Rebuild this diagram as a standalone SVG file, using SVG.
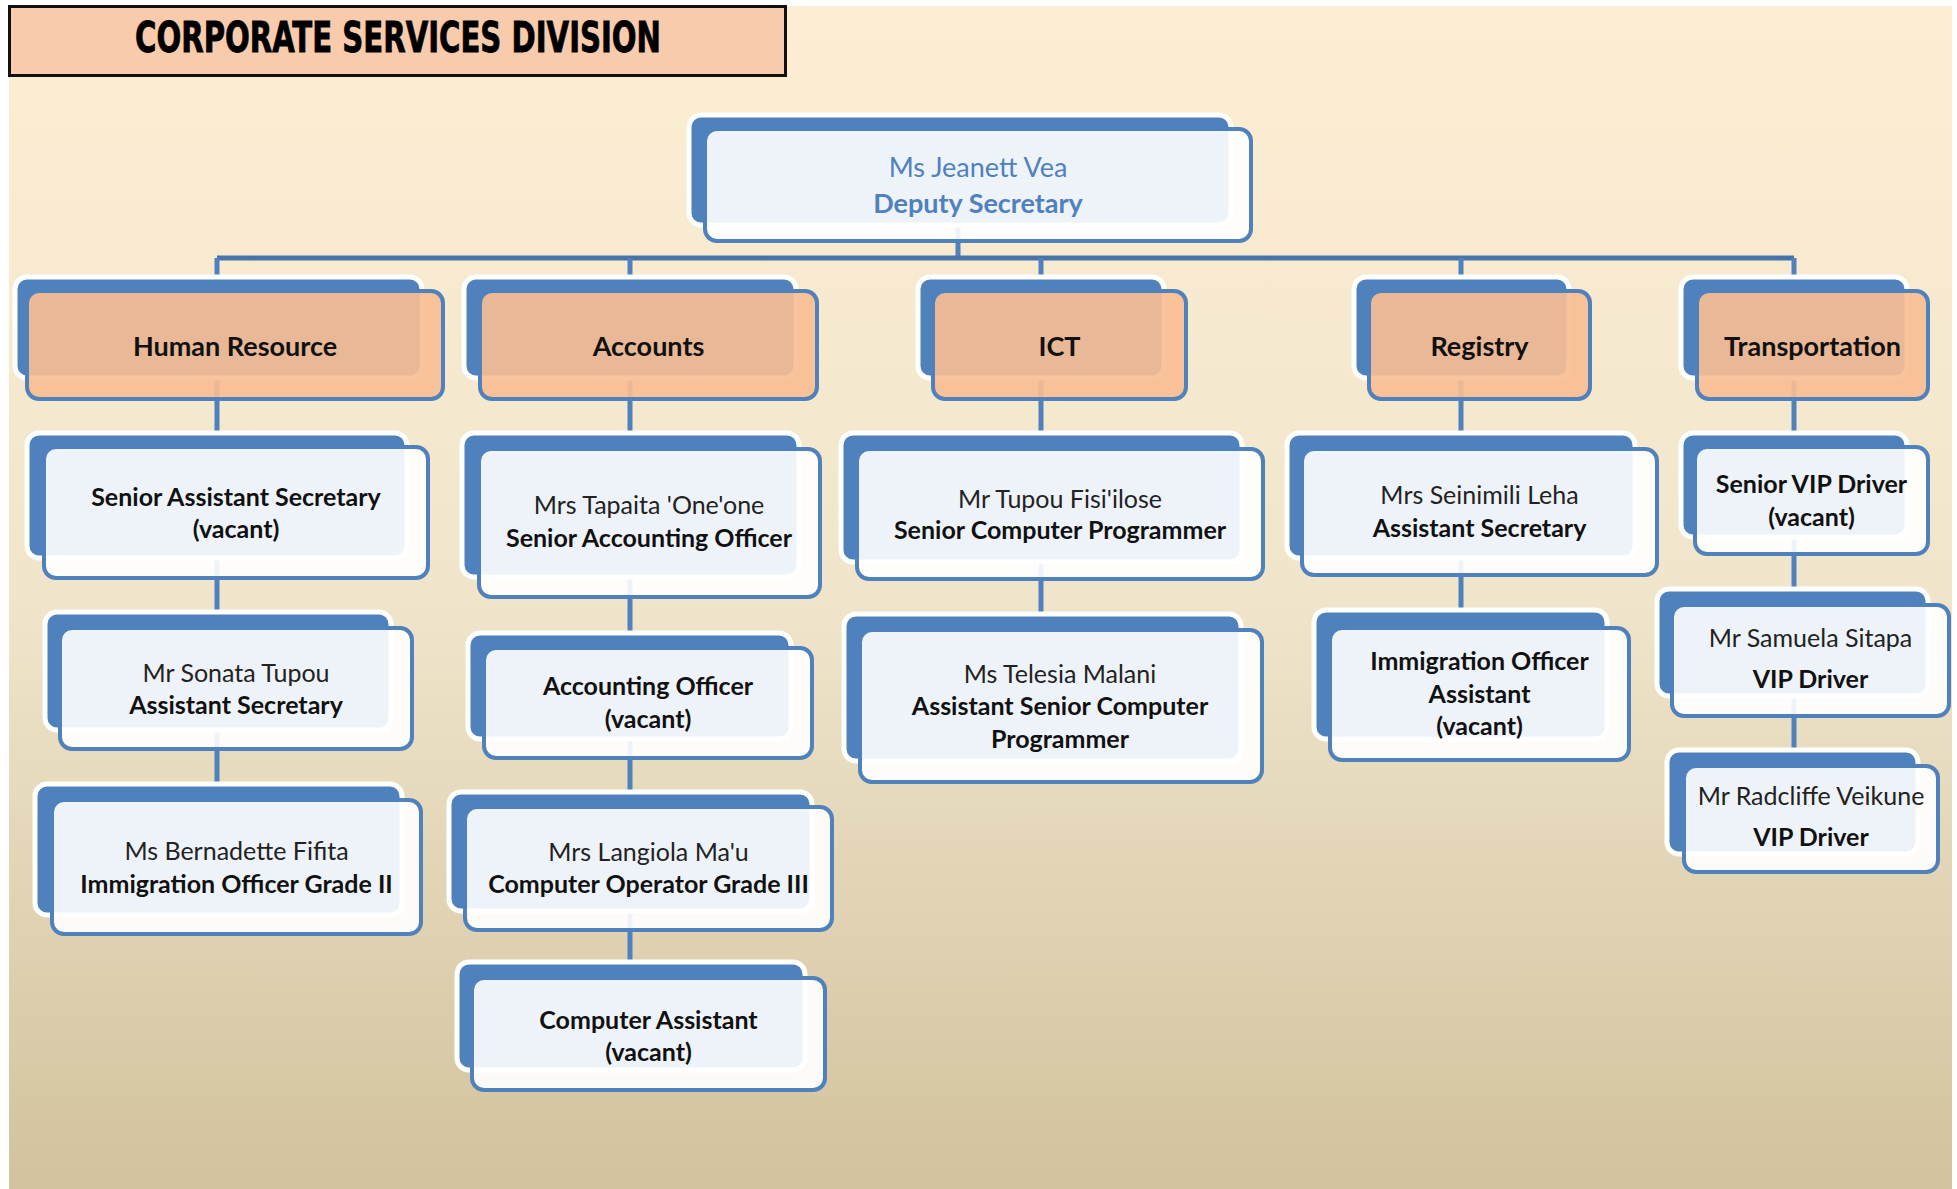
<svg xmlns="http://www.w3.org/2000/svg" width="1957" height="1189" viewBox="0 0 1957 1189">
  <defs>
    <linearGradient id="bg" x1="0" y1="0" x2="0" y2="1">
      <stop offset="0" stop-color="#fdeed3"/>
      <stop offset="0.5" stop-color="#f0e5cb"/>
      <stop offset="1" stop-color="#d2c29e"/>
    </linearGradient>
    <style>
      .back{fill:#4f81bd;stroke:#fff;stroke-width:5}
      .front{fill:#fff;fill-opacity:.9;stroke:#4f81bd;stroke-width:4}
      .dept .front{fill:#f8bd92;fill-opacity:.91}
      .link{stroke:#4f81bd;stroke-width:5;fill:none}
      .bus{stroke:#4674aa;stroke-width:5;fill:none}
      text{font-family:Lato,"Open Sans",sans-serif;text-anchor:middle}
      .n{font-size:25px;fill:#222}
      .b{font-size:25px;font-weight:bold;fill:#111}
      .d{font-size:27px;font-weight:bold;fill:#111}
      .top .n,.top .b{fill:#4f81bd;font-size:27px}
      .title{font-family:"Liberation Sans Narrow","DejaVu Sans Condensed",sans-serif;font-weight:bold;font-size:42px;fill:#000;stroke:#000;stroke-width:0.8}
    </style>
  </defs>

  <!-- page background -->
  <rect x="9" y="6" width="1943" height="1183" fill="url(#bg)"/>

  <!-- heading banner -->
  <g id="heading">
    <rect x="9.5" y="6.5" width="776" height="69" fill="#f8cbad" stroke="#111" stroke-width="3"/>
    <text class="title" x="398" y="52" textLength="526" lengthAdjust="spacingAndGlyphs">CORPORATE SERVICES DIVISION</text>
  </g>

  <!-- reporting lines -->
  <g id="connectors">
    <path class="link" d="M958 225V258"/>
    <path class="bus" d="M217 258H1794"/>
    <path class="link" d="M217 258V277M630 258V277M1041 258V277M1461 258V277M1794 258V277"/>
    <path class="link" d="M217 378V433M217 558V612M217 730V784"/>
    <path class="link" d="M630 378V433M630 577V633M630 739V792M630 911V962"/>
    <path class="link" d="M1041 378V433M1041 562V614"/>
    <path class="link" d="M1461 378V433M1461 558V610"/>
    <path class="link" d="M1794 378V433M1794 537V589M1794 696V750"/>
  </g>

  <!-- Deputy Secretary -->
  <g id="deputy-secretary" class="top">
    <rect class="back" x="689" y="115" width="542" height="110" rx="12"/>
    <rect class="front" x="705" y="129" width="546" height="112" rx="12"/>
    <text class="n" x="978" y="177">Ms Jeanett Vea</text>
    <text class="b" x="978" y="213">Deputy Secretary</text>
  </g>

  <!-- Departments -->
  <g id="human-resource" class="dept">
    <rect class="back" x="15" y="277" width="407" height="101" rx="12"/>
    <rect class="front" x="27" y="291" width="416" height="108" rx="12"/>
    <text class="d" x="235" y="356">Human Resource</text>
  </g>
  <g id="accounts" class="dept">
    <rect class="back" x="464" y="277" width="332" height="101" rx="12"/>
    <rect class="front" x="480" y="291" width="337" height="108" rx="12"/>
    <text class="d" x="648.5" y="356">Accounts</text>
  </g>
  <g id="ict" class="dept">
    <rect class="back" x="918" y="277" width="246" height="101" rx="12"/>
    <rect class="front" x="933" y="291" width="253" height="108" rx="12"/>
    <text class="d" x="1059.5" y="356">ICT</text>
  </g>
  <g id="registry" class="dept">
    <rect class="back" x="1354" y="277" width="215" height="101" rx="12"/>
    <rect class="front" x="1369" y="291" width="221" height="108" rx="12"/>
    <text class="d" x="1479.5" y="356">Registry</text>
  </g>
  <g id="transportation" class="dept">
    <rect class="back" x="1681" y="277" width="226" height="101" rx="12"/>
    <rect class="front" x="1697" y="291" width="231" height="108" rx="12"/>
    <text class="d" x="1812.5" y="356">Transportation</text>
  </g>

  <!-- Human Resource staff -->
  <g id="senior-assistant-secretary">
    <rect class="back" x="27" y="433" width="380" height="125" rx="12"/>
    <rect class="front" x="44" y="447" width="384" height="131" rx="12"/>
    <text class="b" x="236" y="506">Senior Assistant Secretary</text>
    <text class="b" x="236" y="538">(vacant)</text>
  </g>
  <g id="assistant-secretary-hr">
    <rect class="back" x="45" y="612" width="346" height="118" rx="12"/>
    <rect class="front" x="60" y="628" width="352" height="121" rx="12"/>
    <text class="n" x="236" y="682">Mr Sonata Tupou</text>
    <text class="b" x="236" y="714">Assistant Secretary</text>
  </g>
  <g id="immigration-officer-grade-2">
    <rect class="back" x="35" y="784" width="367" height="131" rx="12"/>
    <rect class="front" x="52" y="800" width="369" height="134" rx="12"/>
    <text class="n" x="236.5" y="860">Ms Bernadette Fifita</text>
    <text class="b" x="236.5" y="893">Immigration Officer Grade II</text>
  </g>

  <!-- Accounts staff -->
  <g id="senior-accounting-officer">
    <rect class="back" x="462" y="433" width="337" height="144" rx="12"/>
    <rect class="front" x="479" y="449" width="341" height="148" rx="12"/>
    <text class="n" x="649" y="514">Mrs Tapaita 'One'one</text>
    <text class="b" x="649" y="547">Senior Accounting Officer</text>
  </g>
  <g id="accounting-officer">
    <rect class="back" x="468" y="633" width="323" height="106" rx="12"/>
    <rect class="front" x="484" y="648" width="328" height="110" rx="12"/>
    <text class="b" x="648" y="695">Accounting Officer</text>
    <text class="b" x="648" y="728">(vacant)</text>
  </g>
  <g id="computer-operator-grade-3">
    <rect class="back" x="449" y="792" width="363" height="119" rx="12"/>
    <rect class="front" x="465" y="807" width="367" height="123" rx="12"/>
    <text class="n" x="648.5" y="861">Mrs Langiola Ma'u</text>
    <text class="b" x="648.5" y="893">Computer Operator Grade III</text>
  </g>
  <g id="computer-assistant">
    <rect class="back" x="457" y="962" width="348" height="108" rx="12"/>
    <rect class="front" x="472" y="978" width="353" height="112" rx="12"/>
    <text class="b" x="648.5" y="1029">Computer Assistant</text>
    <text class="b" x="648.5" y="1061">(vacant)</text>
  </g>

  <!-- ICT staff -->
  <g id="senior-computer-programmer">
    <rect class="back" x="841" y="433" width="401" height="129" rx="12"/>
    <rect class="front" x="857" y="449" width="406" height="130" rx="12"/>
    <text class="n" x="1060" y="508">Mr Tupou Fisi'ilose</text>
    <text class="b" x="1060" y="539">Senior Computer Programmer</text>
  </g>
  <g id="assistant-senior-computer-programmer">
    <rect class="back" x="844" y="614" width="397" height="147" rx="12"/>
    <rect class="front" x="860" y="630" width="402" height="152" rx="12"/>
    <text class="n" x="1060" y="683">Ms Telesia Malani</text>
    <text class="b" x="1060" y="715">Assistant Senior Computer</text>
    <text class="b" x="1060" y="748">Programmer</text>
  </g>

  <!-- Registry staff -->
  <g id="assistant-secretary-registry">
    <rect class="back" x="1287" y="433" width="348" height="125" rx="12"/>
    <rect class="front" x="1302" y="449" width="355" height="126" rx="12"/>
    <text class="n" x="1479.5" y="504">Mrs Seinimili Leha</text>
    <text class="b" x="1479.5" y="537">Assistant Secretary</text>
  </g>
  <g id="immigration-officer-assistant">
    <rect class="back" x="1314" y="610" width="293" height="129" rx="12"/>
    <rect class="front" x="1330" y="628" width="299" height="132" rx="12"/>
    <text class="b" x="1479.5" y="670">Immigration Officer</text>
    <text class="b" x="1479.5" y="703">Assistant</text>
    <text class="b" x="1479.5" y="735">(vacant)</text>
  </g>

  <!-- Transportation staff -->
  <g id="senior-vip-driver">
    <rect class="back" x="1681" y="433" width="226" height="104" rx="12"/>
    <rect class="front" x="1695" y="447" width="233" height="107" rx="12"/>
    <text class="b" x="1811.5" y="493">Senior VIP Driver</text>
    <text class="b" x="1811.5" y="526">(vacant)</text>
  </g>
  <g id="vip-driver-sitapa">
    <rect class="back" x="1657" y="589" width="271" height="107" rx="12"/>
    <rect class="front" x="1672" y="605" width="277" height="111" rx="12"/>
    <text class="n" x="1810.5" y="647">Mr Samuela Sitapa</text>
    <text class="b" x="1810.5" y="688">VIP Driver</text>
  </g>
  <g id="vip-driver-veikune">
    <rect class="back" x="1667" y="750" width="251" height="104" rx="12"/>
    <rect class="front" x="1684" y="766" width="254" height="106" rx="12"/>
    <text class="n" x="1811" y="805">Mr Radcliffe Veikune</text>
    <text class="b" x="1811" y="846">VIP Driver</text>
  </g>
</svg>
